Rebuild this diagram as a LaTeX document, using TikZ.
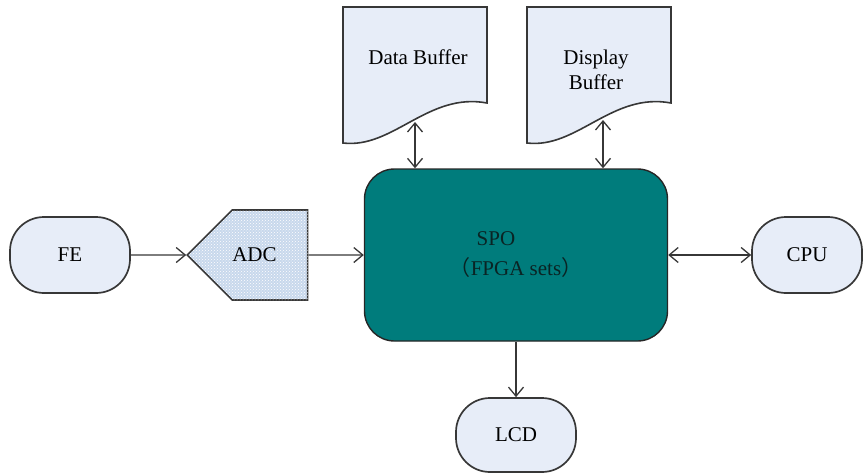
\documentclass[tikz,border=0pt]{standalone}
\usepackage{fontspec}
\setmainfont{Liberation Serif}
\newfontfamily\cjk{Noto Sans CJK SC}
\usetikzlibrary{arrows.meta,shapes.symbols,patterns}
\definecolor{boxfill}{RGB}{231,237,248}
\definecolor{adcfill}{RGB}{200,216,236}
\definecolor{spoteal}{RGB}{0,124,124}
\definecolor{spotext}{RGB}{10,36,36}
\definecolor{edge}{RGB}{55,55,55}

\begin{document}
\begin{tikzpicture}[x=1pt,y=-1pt,
    font=\fontsize{21}{25}\selectfont,
    term/.style={draw=edge,line width=1.7pt,fill=boxfill,rounded corners=34pt,
      minimum width=120pt,minimum height=76pt,inner sep=0pt},
    doc/.style={draw=edge,line width=1.6pt,fill=boxfill},
    link/.style={draw=edge,line width=1.3pt,-{Straight Barb[length=9pt,width=15pt]}},
    dlink/.style={link,{Straight Barb[length=9pt,width=15pt]}-{Straight Barb[length=9pt,width=15pt]}}]
  \useasboundingbox (0,0) rectangle (864,474);
  % buffers
  \draw[doc] (343,7) -- (487,7) -- (487,103) .. controls (428,92) and (393,149) .. (343,143) -- cycle;
  \node (databuf) at (418,57) {Data Buffer};
  \coordinate (datawave) at (415,122);
  \draw[doc] (527,7) -- (671,7) -- (671,103) .. controls (612,92) and (577,149) .. (527,143) -- cycle;
  \node[align=center] (dispbuf) at (596,70) {Display\\Buffer};
  \coordinate (dispwave) at (603,120);
  % blocks
  \node[term] (fe) at (70,255) {FE};
  \node[shape=signal,signal to=west,signal from=nowhere,signal pointer angle=90,
    draw=edge,line width=1.6pt,fill=adcfill,
    postaction={pattern=crosshatch dots,pattern color=white},
    minimum height=90pt,inner sep=0pt] (adc) at (270,255) {ADC\hspace*{31pt}};
  \node[draw=black!85,line width=1.4pt,fill=spoteal,rounded corners=30pt,
    minimum width=303pt,minimum height=172pt,text=spotext,align=center] %
    (spo) at (516,255) {SPO\hspace*{40pt}\\[5pt]{\cjk （}FPGA sets{\cjk ）}};
  \node[term,minimum width=110pt] (cpu) at (807,255) {CPU};
  \node[term,minimum height=74pt] (lcd) at (516,435) {LCD};
  % links
  \draw[link] (fe) -- (adc);
  \draw[link] (adc) -- (spo);
  \draw[dlink] (datawave) -- (datawave |- spo.north);
  \draw[dlink] (dispwave) -- (dispwave |- spo.north);
  \draw[dlink] (spo) -- (cpu);
  \draw[link] (spo) -- (lcd);
\end{tikzpicture}
\end{document}
